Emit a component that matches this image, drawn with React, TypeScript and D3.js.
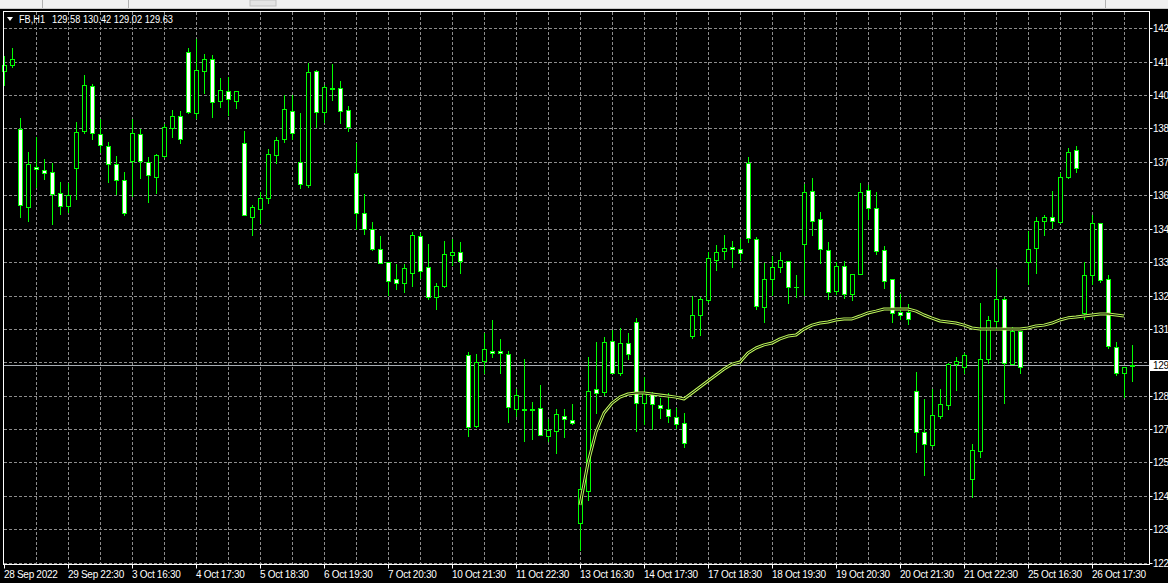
import React from "react";
import * as d3 from "d3";

const symbolTitle = "FB,H1";
const lastQuote = "129.58 130.42 129.02 129.63";

const opens = [
  140.93, 141.16, 138.7, 135.73, 137.27, 137.13, 137.05, 136.27, 135.77, 137.2,
  138.65, 140.36, 138.54, 138.05, 137.38, 136.74, 137.49, 138.54, 137.45, 136.88,
  137.69, 138.77, 139.21, 141.67, 139.34, 140.96, 141.4, 139.79, 140.17, 139.79,
  138.17, 135.32, 135.65, 136.05, 137.73, 138.32, 139.41, 137.45, 136.57, 140.94,
  139.38, 140.29, 140.28, 139.45, 137.01, 135.5, 134.86, 134.11, 133.6, 132.93,
  132.8, 133.19, 134.6, 133.4, 132.24, 132.69, 133.86, 133.97, 130.01, 127.3,
  129.78, 130.16, 130.16, 130.05, 127.94, 127.94, 127.94, 127.97, 126.92, 127.11,
  127.69, 127.52, 123.57, 124.8, 128.7, 128.61, 130.57, 129.34, 130.49, 131.3,
  128.16, 128.57, 128.1, 127.93, 127.65, 127.39, 130.76, 131.56, 132.14, 133.68,
  134.01, 134.19, 134.09, 137.4, 134.47, 131.86, 132.93, 133.42, 133.63, 132.64,
  134.28, 136.32, 135.24, 134.05, 132.49, 133.45, 132.37, 133.13, 136.36, 135.67,
  134.05, 132.93, 131.66, 131.66, 128.65, 127.05, 126.56, 127.67, 128.11, 129.67,
  129.57, 125.24, 126.34, 129.86, 131.34, 132.16, 129.67, 130.96, 133.61, 134.13,
  135.17, 135.32, 135.13, 136.86, 137.91, 131.65, 133.1, 135.09, 132.93, 130.34,
  129.32, 129.58,
];
const highs = [
  141.53, 141.82, 139.13, 137.84, 138.4, 137.55, 137.42, 136.67, 136.63, 138.97,
  140.8, 140.45, 139.09, 138.2, 137.68, 137.05, 139.09, 138.7, 137.65, 137.76,
  138.9, 139.45, 139.41, 141.82, 142.17, 141.61, 141.57, 140.67, 140.71, 140.17,
  138.64, 135.79, 136.3, 137.95, 138.4, 140.02, 140.02, 139.32, 141.27, 140.99,
  140.41, 141.22, 140.56, 139.6, 138.17, 136.22, 135.13, 134.6, 133.6, 133.52,
  133.52, 134.75, 134.72, 134.29, 132.78, 134.42, 134.48, 134.36, 130.14, 130.05,
  130.86, 131.37, 130.64, 130.17, 128.7, 129.88, 128.22, 128.87, 127.54, 127.93,
  127.94, 128.13, 125.7, 129.96, 130.51, 130.7, 130.98, 131.05, 130.86, 131.43,
  129.19, 128.61, 128.36, 128.57, 127.97, 127.78, 132.29, 132.26, 133.99, 134.25,
  134.64, 134.42, 134.47, 137.65, 134.55, 133.55, 133.83, 133.99, 133.63, 133.1,
  136.6, 136.83, 135.53, 134.36, 133.61, 133.64, 133.13, 136.63, 136.56, 136.3,
  134.23, 132.93, 132.36, 131.98, 129.36, 128.33, 128.7, 128.7, 129.72, 129.96,
  130.11, 126.6, 132.03, 131.52, 133.32, 132.26, 131.11, 130.96, 134.8, 135.34,
  135.41, 136.33, 137.01, 137.99, 138.06, 133.61, 135.41, 135.09, 133.1, 130.53,
  129.57, 130.42,
];
const lows = [
  140.41, 141.12, 135.34, 135.19, 136.47, 136.79, 135.05, 135.45, 135.53, 136.01,
  138.55, 138.32, 137.84, 136.69, 136.21, 135.4, 136.15, 136.82, 135.92, 136.27,
  137.63, 138.42, 138.18, 139.33, 139.13, 140.09, 139.19, 139.57, 139.26, 139.51,
  135.4, 134.65, 135.09, 135.86, 137.4, 138.2, 138.32, 136.44, 136.5, 138.81,
  139.0, 139.83, 138.96, 138.65, 134.86, 134.68, 134.06, 133.55, 132.32, 132.55,
  132.46, 132.69, 132.98, 132.19, 131.78, 132.65, 133.47, 133.19, 126.91, 127.26,
  129.32, 129.96, 129.32, 127.46, 127.67, 126.72, 126.78, 126.93, 126.72, 126.24,
  126.88, 127.37, 122.52, 124.44, 127.78, 128.48, 129.34, 129.25, 129.86, 127.11,
  127.37, 127.16, 127.59, 127.46, 127.2, 126.47, 130.66, 130.79, 132.07, 133.29,
  133.7, 133.42, 133.68, 134.38, 131.78, 131.3, 132.33, 133.23, 132.01, 132.24,
  132.33, 134.64, 133.55, 132.16, 132.37, 132.2, 132.14, 133.13, 135.24, 133.91,
  132.61, 131.3, 131.4, 131.21, 126.3, 125.4, 126.53, 127.59, 127.93, 128.67,
  129.32, 124.55, 126.11, 129.73, 131.11, 128.16, 129.67, 129.32, 132.75, 133.17,
  134.64, 134.92, 135.09, 136.83, 137.07, 131.4, 132.75, 132.83, 130.28, 129.25,
  128.42, 129.02,
];
const closes = [
  141.18, 141.4, 135.79, 137.36, 137.17, 137.04, 136.21, 135.77, 136.18, 138.59,
  140.41, 138.55, 138.09, 137.36, 136.74, 135.5, 138.55, 137.49, 136.94, 137.71,
  138.81, 139.21, 138.32, 139.38, 140.99, 141.4, 139.77, 140.21, 139.86, 140.17,
  135.4, 135.7, 136.05, 137.74, 138.29, 139.47, 138.55, 136.6, 140.91, 139.38,
  140.33, 140.24, 139.42, 138.81, 135.5, 134.86, 134.09, 133.57, 132.88, 132.8,
  133.36, 134.64, 133.26, 132.24, 132.68, 133.91, 133.97, 133.63, 127.26, 129.75,
  130.24, 130.1, 130.09, 128.01, 128.48, 127.92, 127.92, 126.93, 127.14, 127.74,
  127.55, 127.42, 124.85, 128.65, 128.57, 130.51, 129.34, 130.47, 130.06, 128.16,
  128.61, 128.12, 127.97, 127.69, 127.37, 126.65, 131.56, 132.16, 133.74, 133.99,
  134.13, 134.09, 133.94, 134.51, 131.91, 132.93, 133.4, 133.67, 132.63, 132.62,
  136.28, 135.19, 134.09, 132.46, 133.45, 132.37, 133.13, 136.28, 135.67, 134.03,
  132.88, 131.65, 131.57, 131.4, 127.05, 126.59, 127.7, 128.14, 129.67, 129.79,
  130.02, 126.37, 129.86, 131.37, 132.16, 129.7, 130.96, 129.55, 134.09, 135.18,
  135.32, 135.17, 136.86, 137.83, 137.21, 133.1, 135.09, 132.91, 130.37, 129.32,
  129.57, 129.63,
];

const maStartBar = 72;
const maValues = [
  124.25, 125.87, 127.06, 127.79, 128.17, 128.4, 128.52, 128.56, 128.56, 128.52,
  128.48, 128.44, 128.4, 128.33, 128.56, 128.79, 129.02, 129.25, 129.48, 129.67,
  129.75, 130.1, 130.29, 130.41, 130.48, 130.64, 130.75, 130.79, 131.02, 131.17,
  131.25, 131.29, 131.37, 131.41, 131.41, 131.52, 131.64, 131.71, 131.79, 131.79,
  131.79, 131.79, 131.71, 131.56, 131.44, 131.33, 131.29, 131.25, 131.17, 131.06,
  131.02, 131.02, 131.02, 131.02, 131.02, 131.02, 131.06, 131.14, 131.17, 131.25,
  131.37, 131.45, 131.48, 131.52, 131.56, 131.6, 131.6, 131.56, 131.52,
];

const timeLabels = [
  "28 Sep 2022", "29 Sep 22:30", "3 Oct 16:30", "4 Oct 17:30", "5 Oct 18:30",
  "6 Oct 19:30", "7 Oct 20:30", "10 Oct 21:30", "11 Oct 22:30", "13 Oct 16:30",
  "14 Oct 17:30", "17 Oct 18:30", "18 Oct 19:30", "19 Oct 20:30", "20 Oct 21:30",
  "21 Oct 22:30", "25 Oct 16:30", "26 Oct 17:30",
];
const barsPerTimeLabel = 8;
const barsPerGridLine = 4;

const priceTicks = [
  122.03, 123.32, 124.6, 125.89, 127.17, 128.46, 129.74, 131.03, 132.31, 133.6,
  134.88, 136.17, 137.45, 138.74, 140.02, 141.31, 142.59,
];
const bidPrice = 129.63;

const W = 1168;
const H = 583;
const plotLeft = 3.5;
const plotTop = 11.5;
const plotRight = 1149.5;
const plotBottom = 564.5;
const GREEN = "#00ff00";
const GRID = "#8c8c8c";
const FONT = "'Liberation Sans', Arial, sans-serif";

export default function App() {
  const n = opens.length;
  const x = d3.scaleLinear().domain([0, n - 1]).range([4, 1132]);
  const y = d3
    .scaleLinear()
    .domain([priceTicks[0], priceTicks[priceTicks.length - 1]])
    .range([562.7, 28.3]);

  const gridBars = d3.range(barsPerGridLine, n, barsPerGridLine);
  const labelBars = timeLabels.map((_, k) => k * barsPerTimeLabel);

  const maLine = d3
    .line<number>()
    .x((_, k) => x(maStartBar + k))
    .y((v) => y(v));
  const maPath = maLine(maValues) || "";

  const bidY = Math.round(y(bidPrice)) + 0.5;

  return (
    <svg
      width={W}
      height={H}
      style={{ position: "absolute", left: 0, top: 0, background: "#000" }}
      fontFamily={FONT}
    >
      <rect x={0} y={0} width={W} height={H} fill="#000" />
      {/* toolbar strip */}
      <rect x={0} y={0} width={W} height={9} fill="#f0f0f0" />
      <line x1={0} x2={W} y1={8.5} y2={8.5} stroke="#c8c8c8" />
      <line x1={42.5} x2={42.5} y1={0} y2={8} stroke="#b0b0b0" />
      <line x1={128.5} x2={128.5} y1={0} y2={8} stroke="#b0b0b0" />
      <line x1={1105.5} x2={1105.5} y1={0} y2={8} stroke="#b0b0b0" />
      <rect x={250} y={0} width={26} height={6} fill="#e4e4e4" stroke="#c0c0c0" />

      {/* grid */}
      <g stroke={GRID} strokeDasharray="3,2" shapeRendering="crispEdges">
        {priceTicks.map((p, k) => (
          <line key={"h" + k} x1={plotLeft} x2={plotRight} y1={Math.round(y(p)) + 0.5} y2={Math.round(y(p)) + 0.5} />
        ))}
        {gridBars.map((b) => (
          <line key={"v" + b} x1={Math.round(x(b)) + 0.5} x2={Math.round(x(b)) + 0.5} y1={plotTop} y2={plotBottom} />
        ))}
      </g>

      {/* bid line */}
      <line x1={plotLeft} x2={plotRight} y1={bidY} y2={bidY} stroke="#a8aeb4" shapeRendering="crispEdges" />

      {/* candles */}
      <g shapeRendering="crispEdges">
        {opens.map((o, i) => {
          const c = closes[i];
          const cx = Math.round(x(i));
          const yH = Math.round(y(highs[i]));
          const yL = Math.round(y(lows[i]));
          const yTop = Math.round(y(Math.max(o, c)));
          const yBot = Math.round(y(Math.min(o, c)));
          const bull = c >= o;
          return (
            <g key={i}>
              <line x1={cx + 0.5} x2={cx + 0.5} y1={yH} y2={yL + 1} stroke={GREEN} />
              {yBot - yTop < 1 ? (
                <line x1={cx - 2} x2={cx + 3} y1={yTop + 0.5} y2={yTop + 0.5} stroke={GREEN} />
              ) : (
                <rect
                  x={cx - 1.5}
                  y={yTop + 0.5}
                  width={4}
                  height={yBot - yTop}
                  fill={bull ? "#000" : "#ffffff"}
                  stroke={GREEN}
                />
              )}
            </g>
          );
        })}
      </g>

      {/* moving average (double line) */}
      <path d={maPath} fill="none" stroke="#bcf65a" strokeWidth={3} strokeLinejoin="round" />
      <path d={maPath} fill="none" stroke="#000" strokeWidth={1} strokeLinejoin="round" />

      {/* frame */}
      <rect
        x={plotLeft}
        y={plotTop}
        width={plotRight - plotLeft}
        height={plotBottom - plotTop}
        fill="none"
        stroke="#ffffff"
        shapeRendering="crispEdges"
      />

      {/* price axis */}
      <g fill="#ffffff" fontSize={10} letterSpacing={-0.3}>
        {priceTicks.map((p, k) => {
          const ty = Math.round(y(p)) + 0.5;
          const hidden = Math.abs(ty - bidY) < 9;
          return (
            <g key={"pt" + k}>
              <line x1={plotRight} x2={plotRight + 3} y1={ty} y2={ty} stroke="#ffffff" />
              {!hidden && <text x={1153} y={ty + 3.5}>{p.toFixed(2)}</text>}
            </g>
          );
        })}
      </g>
      {/* bid label */}
      <rect x={plotRight + 0.5} y={bidY - 5.5} width={W - plotRight} height={11} fill="#ffffff" />
      <text x={1153} y={bidY + 3.5} fontSize={10} letterSpacing={-0.3} fill="#000">
        {bidPrice.toFixed(2)}
      </text>

      {/* time axis */}
      <g fill="#ffffff" fontSize={10} letterSpacing={-0.3}>
        {labelBars.map((b, k) => {
          const tx = Math.round(x(b)) + 0.5;
          return (
            <g key={"tl" + k}>
              <line x1={tx} x2={tx} y1={plotBottom} y2={plotBottom + 4} stroke="#ffffff" />
              <text x={tx - 0.5} y={578}>{timeLabels[k]}</text>
            </g>
          );
        })}
      </g>

      {/* header */}
      <polygon points="7,17 13,17 10,21" fill="#ffffff" />
      <text x={19} y={23} fill="#ffffff" fontSize={10} textLength={26} lengthAdjust="spacingAndGlyphs">
        {symbolTitle}
      </text>
      <text x={52} y={23} fill="#ffffff" fontSize={10} textLength={121} lengthAdjust="spacingAndGlyphs">
        {lastQuote}
      </text>
    </svg>
  );
}
